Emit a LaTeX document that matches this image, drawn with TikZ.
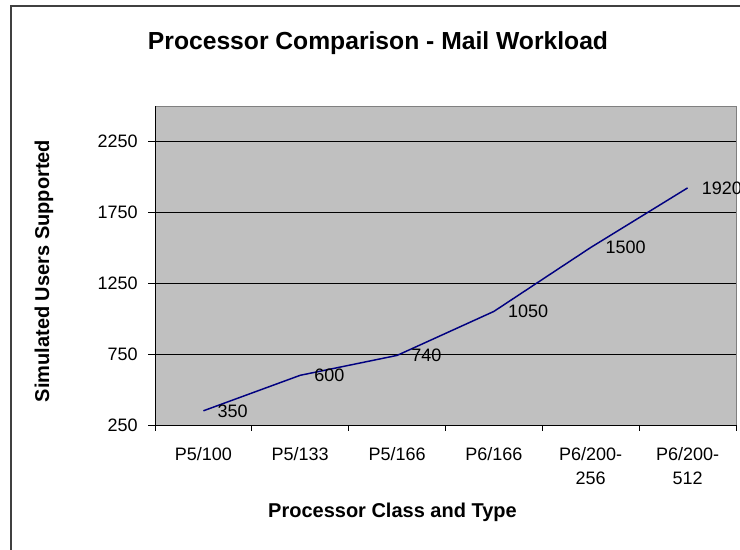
\documentclass[tikz,border=0pt]{standalone}
\usepackage{fontspec}
\setmainfont{Liberation Sans}
\definecolor{plotgray}{HTML}{C0C0C0}
\definecolor{bordergray}{HTML}{808080}
\definecolor{framegray}{HTML}{404040}
\definecolor{navyline}{HTML}{000080}
\begin{document}
\begin{tikzpicture}[x=0.75pt,y=-0.75pt,
  ticklab/.style={inner sep=0pt,font=\fontsize{13.5pt}{18pt}\selectfont},
  datalab/.style={inner sep=0pt,anchor=west,font=\fontsize{13.5pt}{18pt}\selectfont},
  axtitle/.style={inner sep=0pt,font=\fontsize{15pt}{18pt}\selectfont\bfseries},
  gridl/.style={line width=0.75pt,black},
  axisl/.style={line width=0.75pt,black},
  serie/.style={line width=1.1pt,navyline,line join=round}]
\clip (0,0) rectangle (740,550);
\fill[white] (0,0) rectangle (740,550);
% outer frame
\draw[framegray,line width=1.5pt] (741,6) -- (11,6) -- (11,551);
% plot area
\fill[plotgray] (155,106) rectangle (736,425);
\draw[bordergray,line width=0.75pt] (155,106) -- (736,106) -- (736,425);
% gridlines
\foreach \yy in {354,283,212,141} \draw[gridl] (155,\yy) -- (736,\yy);
% axes
\draw[axisl] (155,106) -- (155,425) -- (736,425);
\foreach \yy in {425,354,283,212,141} \draw[axisl] (148,\yy) -- (155,\yy);
\foreach \xx in {155,251.8,348.7,445.5,542.3,639.2,736} \draw[axisl] (\xx,425) -- (\xx,431);
% y tick labels
\node[ticklab,anchor=east] (y250) at (138,425) {250};
\node[ticklab,anchor=east] (y750) at (138,354) {750};
\node[ticklab,anchor=east] (y1250) at (138,283) {1250};
\node[ticklab,anchor=east] (y1750) at (138,212) {1750};
\node[ticklab,anchor=east] (y2250) at (138,141) {2250};
% x tick labels
\node[ticklab,anchor=base] (x1) at (203.4,460) {P5/100};
\node[ticklab,anchor=base] (x2) at (300.2,460) {P5/133};
\node[ticklab,anchor=base] (x3) at (397.1,460) {P5/166};
\node[ticklab,anchor=base] (x4) at (493.9,460) {P6/166};
\node[ticklab,anchor=base,align=center] (x5) at (590.7,484) {P6/200-\\256};
\node[ticklab,anchor=base,align=center] (x6) at (687.6,484) {P6/200-\\512};
% data
\coordinate (p1) at (203.4,410.8);
\coordinate (p2) at (300.2,375.3);
\coordinate (p3) at (397.1,355.4);
\coordinate (p4) at (493.9,311.4);
\coordinate (p5) at (590.7,247.5);
\coordinate (p6) at (687.6,187.9);
\draw[serie] (p1) -- (p2) -- (p3) -- (p4) -- (p5) -- (p6);
\node[datalab] (l1) at ([xshift=10.5pt]p1) {350};
\node[datalab] (l2) at ([xshift=10.5pt]p2) {600};
\node[datalab] (l3) at ([xshift=10.5pt]p3) {740};
\node[datalab] (l4) at ([xshift=10.5pt]p4) {1050};
\node[datalab] (l5) at ([xshift=11pt]p5) {1500};
\node[datalab] (l6) at ([xshift=10.5pt]p6) {1920};
% titles
\node[inner sep=0pt,anchor=base,font=\fontsize{18.5pt}{22pt}\selectfont\bfseries] (title) at (378,49) {Processor Comparison - Mail Workload};
\node[axtitle,anchor=base] (xtitle) at (392.5,517) {Processor Class and Type};
\node[axtitle,rotate=90] (ytitle) at (44,271) {Simulated Users Supported};
\end{tikzpicture}
\end{document}
